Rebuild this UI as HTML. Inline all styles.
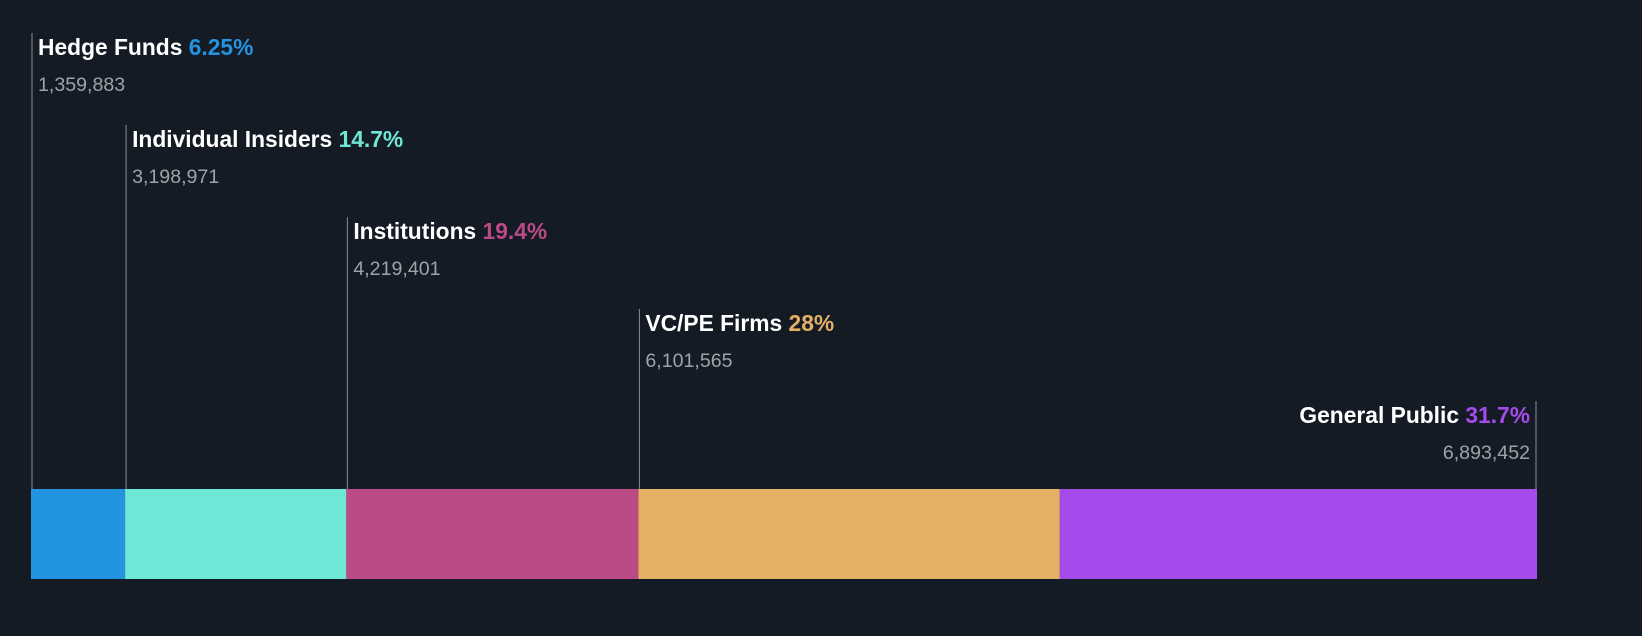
<!DOCTYPE html>
<html><head><meta charset="utf-8"><style>
body{margin:0;background:#151b24;width:1642px;height:636px;overflow:hidden;font-family:"Liberation Sans",Arial,sans-serif}
svg{display:block}
</style></head><body>
<svg id="c" width="1642" height="636"></svg>
<script>
const categories=["Hedge Funds","Individual Insiders","Institutions","VC/PE Firms","General Public"];
const percents=[6.25,14.7,19.4,28,31.7];
const percentLabels=["6.25%","14.7%","19.4%","28%","31.7%"];
const shares=["1,359,883","3,198,971","4,219,401","6,101,565","6,893,452"];
const colors=["#2394e0","#6fe7d6","#bb4a86","#e4b066","#a64beb"];
const svg=document.getElementById('c');
const NS="http://www.w3.org/2000/svg";
const x0=31,x1=1537,barTop=489,barH=90;
const total=percents.reduce((a,b)=>a+b,0);
const xs=v=>x0+(v/total)*(x1-x0);
let cum=0;
percents.forEach((p,i)=>{
  const xa=xs(cum),xb=xs(cum+p);cum+=p;
  const r=document.createElementNS(NS,'rect');
  r.setAttribute('x',xa);r.setAttribute('y',barTop);r.setAttribute('width',xb-xa);r.setAttribute('height',barH);r.setAttribute('fill',colors[i]);
  
  
  svg.appendChild(r);
  const last=i===percents.length-1;
  const ty=33+i*92;
  const lx=last?xb-1:xa+1;
  const ln=document.createElementNS(NS,'line');
  ln.setAttribute('x1',lx);ln.setAttribute('x2',lx);ln.setAttribute('y1',ty);ln.setAttribute('y2',barTop);
  ln.setAttribute('stroke','#8a8f96');ln.setAttribute('stroke-width','1');
  
  
  svg.appendChild(ln);
  const tx=last?xb-7:xa+7;
  const t=document.createElementNS(NS,'text');
  t.setAttribute('x',tx);t.setAttribute('y',ty+22);t.setAttribute('font-size','22.8');t.setAttribute('font-weight','bold');t.setAttribute('fill','#ffffff');
  if(last)t.setAttribute('text-anchor','end');
  
  
  t.textContent=categories[i]+' ';
  const ts=document.createElementNS(NS,'tspan');ts.setAttribute('fill',colors[i]);ts.textContent=percentLabels[i];
  t.appendChild(ts);svg.appendChild(t);
  const v=document.createElementNS(NS,'text');
  v.setAttribute('x',tx);v.setAttribute('y',ty+58);v.setAttribute('font-size','19.6');v.setAttribute('fill','#9ea3a9');
  if(last)v.setAttribute('text-anchor','end');
  
  
  v.textContent=shares[i];svg.appendChild(v);
});
</script>
</body></html>
